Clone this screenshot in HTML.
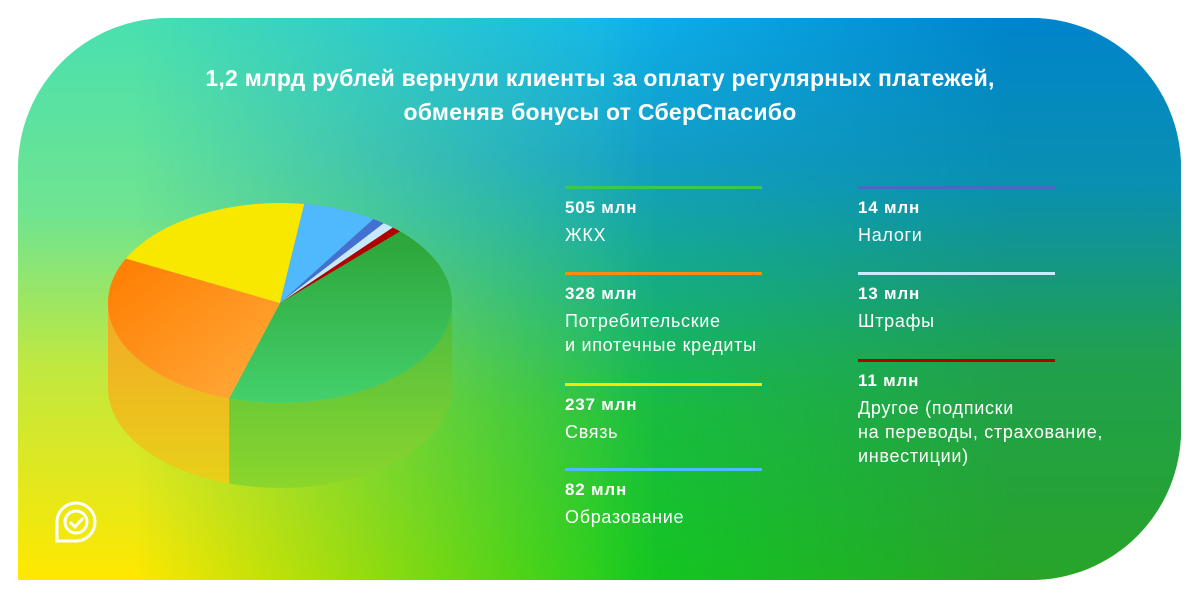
<!DOCTYPE html>
<html><head><meta charset="utf-8"><style>
html,body{margin:0;padding:0;background:#fff;width:1200px;height:600px;overflow:hidden;font-family:"Liberation Sans","Noto Sans CJK SC",sans-serif}
.card{position:absolute;left:18px;top:18px;width:1163px;height:562px;border-radius:150px 150px 150px 0;overflow:hidden}
.l1{position:absolute;inset:0;background:linear-gradient(to bottom,#48e0b0 0%,#70e490 35%,#c0e840 62%,#ffe800 100%)}
.l2{position:absolute;inset:0;background:linear-gradient(to bottom,#10b4ee 0%,#14a0c8 25%,#18c040 70%,#10cc20 100%);-webkit-mask-image:linear-gradient(to right,transparent 10%,black 55%);mask-image:linear-gradient(to right,transparent 10%,black 55%)}
.l3{position:absolute;inset:0;background:linear-gradient(to bottom,#0084cc 0%,#0a90b0 30%,#20a050 60%,#28a428 100%);-webkit-mask-image:linear-gradient(to right,transparent 50%,black 85%);mask-image:linear-gradient(to right,transparent 50%,black 85%)}
.title{position:absolute;left:0;width:1200px;top:61px;text-align:center;color:#fff;font-weight:bold;font-size:23px;letter-spacing:0.25px;line-height:34px}
.it{position:absolute;width:197px;color:#fff}
.it .bar{height:3px;width:197px}
.it .v{font-weight:bold;font-size:17px;letter-spacing:0.8px;margin-top:9px;line-height:20px}
.it .t{font-size:18px;letter-spacing:0.7px;line-height:24px;margin-top:5px;width:320px}
</style></head><body>
<div class="card"><div class="l1"></div><div class="l2"></div><div class="l3"></div></div>
<div class="title">1,2 млрд рублей вернули клиенты за оплату регулярных платежей,<br>обменяв бонусы от СберСпасибо</div>
<svg width="1200" height="600" style="position:absolute;left:0;top:0">
<defs>
<linearGradient id="gs" x1="0" y1="0" x2="0" y2="1"><stop offset="0" stop-color="#4cbc40"/><stop offset="1" stop-color="#8cd62c"/></linearGradient>
<linearGradient id="os" x1="0" y1="0" x2="0" y2="1"><stop offset="0" stop-color="#f4a828"/><stop offset="1" stop-color="#e8d018"/></linearGradient>
<linearGradient id="gt" x1="0" y1="0" x2="0" y2="1"><stop offset="0" stop-color="#2ca438"/><stop offset="1" stop-color="#44d06c"/></linearGradient>
<linearGradient id="ot" x1="0" y1="0" x2="1" y2="1"><stop offset="0" stop-color="#ff7c00"/><stop offset="1" stop-color="#ffac3c"/></linearGradient>
</defs>
<path d="M452,303 A172,100 0 0 1 229.1,398.5 L229.1,483.5 A172,100 0 0 0 452,388 Z" fill="url(#gs)"/>
<path d="M229.1,398.5 A172,100 0 0 1 108,303 L108,388 A172,100 0 0 0 229.1,483.5 Z" fill="url(#os)"/>
<path d="M280,303 L400.1,231.4 A172,100 0 0 1 229.1,398.5 Z" fill="url(#gt)"/>
<path d="M280,303 L229.1,398.5 A172,100 0 0 1 125.9,258.5 Z" fill="url(#ot)"/>
<path d="M280,303 L125.9,258.5 A172,100 0 0 1 304.2,204 Z" fill="#f8e800"/>
<path d="M280,303 L304.2,204 A172,100 0 0 1 373.4,219 Z" fill="#50b8fc"/>
<path d="M280,303 L373.4,219 A172,100 0 0 1 383.7,223.2 Z" fill="#4470d0"/>
<path d="M280,303 L383.7,223.2 A172,100 0 0 1 392.8,227.5 Z" fill="#c8e8ff"/>
<path d="M280,303 L392.8,227.5 A172,100 0 0 1 400.1,231.4 Z" fill="#b00000"/>
<g fill="none" stroke="#fff" stroke-width="3">
<path d="M57,541 L57,522 A19,19 0 1 1 76,541 Z"/>
<circle cx="76" cy="522" r="11"/>
<path d="M70,522 L75,527 L83,518"/>
</g>
</svg>
<div class="it" style="left:565px;top:186px"><div class="bar" style="background:#3cc850"></div><div class="v">505 млн</div><div class="t">ЖКХ</div></div>
<div class="it" style="left:565px;top:272px"><div class="bar" style="background:#ff8a10"></div><div class="v">328 млн</div><div class="t">Потребительские<br>и ипотечные кредиты</div></div>
<div class="it" style="left:565px;top:383px"><div class="bar" style="background:#f8e800"></div><div class="v">237 млн</div><div class="t">Связь</div></div>
<div class="it" style="left:565px;top:468px"><div class="bar" style="background:#50b8fc"></div><div class="v">82 млн</div><div class="t">Образование</div></div>
<div class="it" style="left:858px;top:186px"><div class="bar" style="background:#4a68c8"></div><div class="v">14 млн</div><div class="t">Налоги</div></div>
<div class="it" style="left:858px;top:272px"><div class="bar" style="background:#c8ecff"></div><div class="v">13 млн</div><div class="t">Штрафы</div></div>
<div class="it" style="left:858px;top:359px"><div class="bar" style="background:#b00000"></div><div class="v">11 млн</div><div class="t">Другое (подписки<br>на переводы, страхование,<br>инвестиции)</div></div>
</body></html>
